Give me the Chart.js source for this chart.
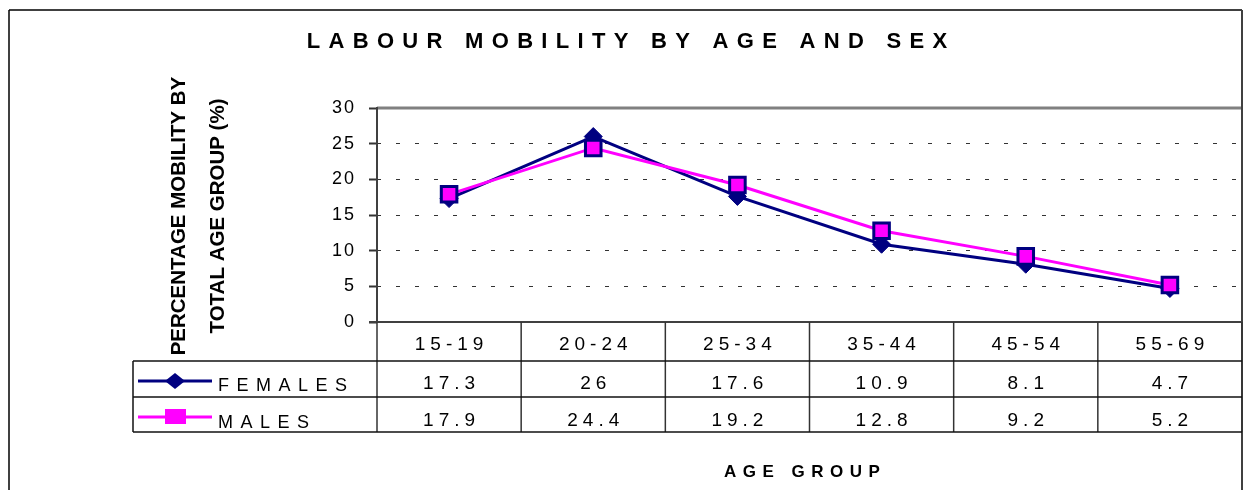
<!DOCTYPE html>
<html>
<head>
<meta charset="utf-8">
<script src="https://cdn.jsdelivr.net/npm/chart.js@4.4.0/dist/chart.umd.min.js"></script>
<style>
  html, body { margin: 0; background: #fff; overflow: hidden; }
  canvas { display: block; }
</style>
</head>
<body>
<canvas id="chart" width="1245" height="490"></canvas>
<script>
var ageGroups = ['15-19', '20-24', '25-34', '35-44', '45-54', '55-69'];
var females = [17.3, 26, 17.6, 10.9, 8.1, 4.7];
var males = [17.9, 24.4, 19.2, 12.8, 9.2, 5.2];
var yTicks = [0, 5, 10, 15, 20, 25, 30];
var seriesNames = ['FEMALES', 'MALES'];

var FONT = '"Liberation Sans", Arial, sans-serif';
var NAVY = '#000080';
var PINK = '#ff00ff';

Chart.defaults.font.family = FONT;

// draw text with a gap between letters (old excel style)
function spaced(ctx, text, x, y, gap, align) {
    var widths = [], total = 0;
    for (var i = 0; i < text.length; i++) {
        var w = ctx.measureText(text[i]).width;
        widths.push(w);
        total += w;
    }
    total += gap * (text.length - 1);
    var sx = x;
    if (align === 'center') sx = x - total / 2;
    if (align === 'right') sx = x - total;
    ctx.textAlign = 'left';
    for (var j = 0; j < text.length; j++) {
        ctx.fillText(text[j], sx, y);
        sx += widths[j] + gap;
    }
}

function line(ctx, x1, y1, x2, y2) {
    ctx.beginPath();
    ctx.moveTo(x1, y1);
    ctx.lineTo(x2, y2);
    ctx.stroke();
}

var framePlugin = {
    id: 'frame',
    beforeDraw: function (chart) {
        var ctx = chart.ctx;
        if ('letterSpacing' in ctx) ctx.letterSpacing = '2px';
    },
    afterDraw: function (chart) {
        var ctx = chart.ctx;
        var a = chart.chartArea;
        var xs = chart.scales.x;
        ctx.save();
        if ('letterSpacing' in ctx) ctx.letterSpacing = '0px';
        ctx.setLineDash([]);

        // outer border
        ctx.strokeStyle = '#000';
        ctx.lineWidth = 1.5;
        line(ctx, 9, 10, a.right, 10);
        line(ctx, 9, 10, 9, 490);

        // plot frame
        ctx.strokeStyle = '#808080';
        ctx.lineWidth = 3;
        line(ctx, a.left, a.top, a.right + 1, a.top);
        ctx.strokeStyle = '#404040';
        ctx.lineWidth = 2;
        line(ctx, a.right, 10, a.right, 490);
        line(ctx, a.left, a.top - 1, a.left, a.bottom + 1);
        line(ctx, a.left - 8, a.bottom, a.right, a.bottom);

        // data table
        var colW = xs.getPixelForValue(1) - xs.getPixelForValue(0);
        var rowTop = a.bottom, row1 = 361, row2 = 397, rowEnd = 432, tableLeft = 133;
        ctx.strokeStyle = '#333';
        ctx.lineWidth = 1.5;
        for (var i = 0; i <= ageGroups.length; i++) {
            var bx = xs.getPixelForValue(0) - colW / 2 + i * colW;
            line(ctx, bx, rowTop, bx, rowEnd);
        }
        ctx.strokeStyle = '#111';
        line(ctx, tableLeft, row1, a.right, row1);
        line(ctx, tableLeft, row2, a.right, row2);
        line(ctx, tableLeft, rowEnd, a.right, rowEnd);
        line(ctx, tableLeft, row1, tableLeft, rowEnd);

        ctx.fillStyle = '#000';
        ctx.font = '19px ' + FONT;
        ctx.textBaseline = 'alphabetic';
        for (var k = 0; k < ageGroups.length; k++) {
            var cx = xs.getPixelForValue(k);
            spaced(ctx, ageGroups[k], cx, 350, 5, 'center');
            spaced(ctx, String(females[k]), cx, 389, 5, 'center');
            spaced(ctx, String(males[k]), cx, 426, 5, 'center');
        }

        // legend keys
        ctx.font = '18px ' + FONT;
        spaced(ctx, seriesNames[0], 218, 391, 7.5, 'left');
        spaced(ctx, seriesNames[1], 218, 428, 7.5, 'left');
        ctx.lineWidth = 3;
        ctx.strokeStyle = NAVY;
        line(ctx, 138, 381, 212, 381);
        ctx.fillStyle = NAVY;
        ctx.beginPath();
        ctx.moveTo(175, 373);
        ctx.lineTo(185, 381);
        ctx.lineTo(175, 389);
        ctx.lineTo(165, 381);
        ctx.closePath();
        ctx.fill();
        ctx.strokeStyle = PINK;
        line(ctx, 138, 417, 212, 417);
        ctx.fillStyle = PINK;
        ctx.fillRect(165, 409, 21, 15);

        // titles
        ctx.fillStyle = '#000';
        ctx.font = 'bold 22px ' + FONT;
        spaced(ctx, 'LABOUR MOBILITY BY AGE AND SEX', 627, 48, 8.3, 'center');
        ctx.font = 'bold 17px ' + FONT;
        spaced(ctx, 'AGE GROUP', 802, 477, 6.5, 'center');

        ctx.font = 'bold 20.5px ' + FONT;
        ctx.textAlign = 'center';
        ctx.textBaseline = 'middle';
        ctx.translate(179, 216);
        ctx.rotate(-Math.PI / 2);
        ctx.fillText('PERCENTAGE MOBILITY BY', 0, 0);
        ctx.fillText('TOTAL AGE GROUP (%)', 0, 39);
        ctx.restore();
    }
};

new Chart(document.getElementById('chart'), {
    type: 'line',
    data: {
        labels: ageGroups,
        datasets: [{
            label: seriesNames[0],
            data: females,
            borderColor: NAVY,
            backgroundColor: NAVY,
            borderWidth: 3,
            pointStyle: 'rectRot',
            pointRadius: 9,
            pointBorderWidth: 1,
            pointBackgroundColor: NAVY,
            pointBorderColor: NAVY,
            order: 1
        }, {
            label: seriesNames[1],
            data: males,
            borderColor: PINK,
            backgroundColor: PINK,
            borderWidth: 3,
            pointStyle: 'rect',
            pointRadius: 11,
            pointBorderWidth: 3,
            pointBackgroundColor: PINK,
            pointBorderColor: NAVY,
            order: 0
        }]
    },
    options: {
        responsive: false,
        animation: false,
        layout: { autoPadding: false, padding: { left: 317, right: 3, top: 108, bottom: 168 } },
        plugins: { legend: { display: false }, title: { display: false }, tooltip: { enabled: false } },
        scales: {
            x: { display: false, offset: true },
            y: {
                min: 0,
                max: 30,
                afterBuildTicks: function (s) { s.ticks = yTicks.map(function (v) { return { value: v }; }); },
                afterFit: function (s) { s.width = 60; },
                ticks: { color: '#000', font: { size: 18 }, padding: 13 },
                grid: { color: '#333', lineWidth: 1, tickLength: 8, tickColor: '#333', tickWidth: 2, tickBorderDash: [8, 0] },
                border: { display: false, dash: [4, 15] }
            }
        }
    },
    plugins: [framePlugin]
});
</script>
</body>
</html>
